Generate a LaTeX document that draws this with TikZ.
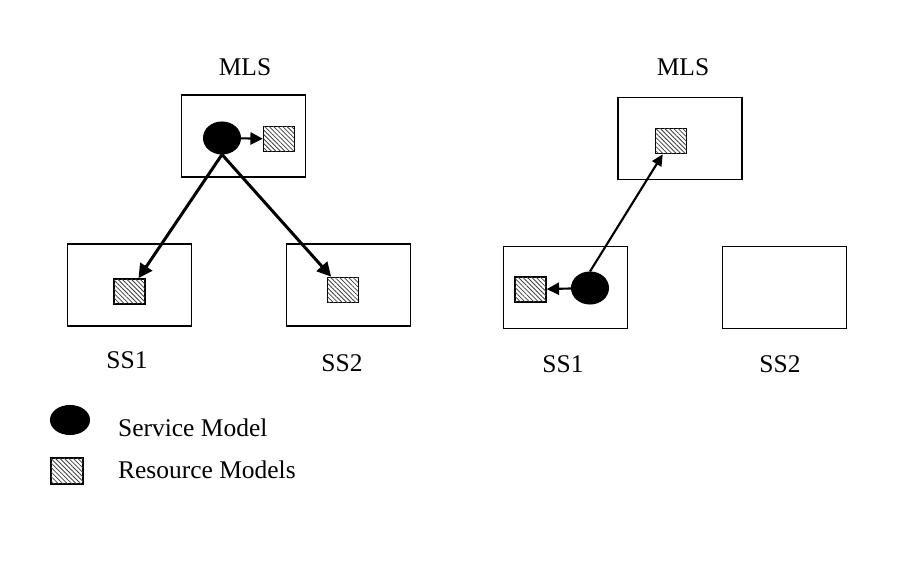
\documentclass[tikz,border=0pt]{standalone}
\usepackage{fontspec}
\setmainfont{Liberation Serif}
\usetikzlibrary{arrows.meta,patterns.meta,shapes.geometric}
\tikzset{
  sysbox/.style={draw,line width=1pt,fill=white,minimum width=2.48cm,minimum height=1.64cm,inner sep=0pt},
  svc/.style={ellipse,fill=black,draw,line width=0.6pt,minimum width=0.74cm,minimum height=0.64cm,inner sep=0pt},
  res/.style={draw,line width=0.9pt,fill=white,
    postaction={pattern={Lines[angle=-45,distance=1.8pt,line width=0.45pt]},pattern color=black!75},
    minimum width=0.62cm,minimum height=0.5cm,inner sep=0pt},
  lbl/.style={inner sep=1pt}
}
\begin{document}
\begin{tikzpicture}[x=0.02cm,y=-0.02cm,font=\fontsize{14.5pt}{17pt}\selectfont]
  \useasboundingbox (0,0) rectangle (900,564);
  % left: service model at the MLS
  \node[lbl] (mlsA) at (245,67) {MLS};
  \node[sysbox] (boxA0) at (243.5,136) {};
  \node[sysbox] (boxA1) at (129.5,285) {};
  \node[sysbox] (boxA2) at (348.5,285) {};
  \node[lbl] (ssA1) at (127,360) {SS1};
  \node[lbl] (ssA2) at (342,363) {SS2};
  \node[svc] (svcA) at (222,138) {};
  \node[res] (resA0) at (279,139) {};
  \node[res] (resA1) at (129.5,291.5) {};
  \node[res] (resA2) at (343,290) {};
  % right: service model moved to SS1
  \node[lbl] (mlsB) at (683,67) {MLS};
  \node[sysbox] (boxB0) at (680,138.5) {};
  \node[sysbox] (boxB1) at (565.5,287.5) {};
  \node[sysbox] (boxB2) at (784.5,287.5) {};
  \node[lbl] (ssB1) at (563,364) {SS1};
  \node[lbl] (ssB2) at (780,364) {SS2};
  \node[res] (resB0) at (671,141) {};
  \node[svc] (svcB) at (590,288) {};
  \node[res] (resB1) at (530.5,289.5) {};
  % legend
  \node[svc,minimum width=0.78cm,minimum height=0.58cm] (keySvc) at (70,420) {};
  \node[res,minimum width=0.64cm,minimum height=0.52cm] (keyRes) at (67,471) {};
  \node[lbl,anchor=west] (keySvcTxt) at (116,428) {Service Model};
  \node[lbl,anchor=west] (keyResTxt) at (116,470) {Resource Models};
  \begin{scope}[line width=1.2pt,-{Triangle[length=7pt,width=7pt]}]
    \draw (svcA) -- (resA0);
    \draw[line width=1.7pt,-{Triangle[length=8pt,width=8pt]}] (svcA.south) -- (resA1);
    \draw[line width=1.7pt,-{Triangle[length=8pt,width=8pt]}] (svcA.south) -- (resA2);
    \draw (svcB) -- (resB1);
    \draw[-{Triangle[length=6.5pt,width=6pt]}] (svcB.north) -- (resB0);
  \end{scope}
\end{tikzpicture}
\end{document}
